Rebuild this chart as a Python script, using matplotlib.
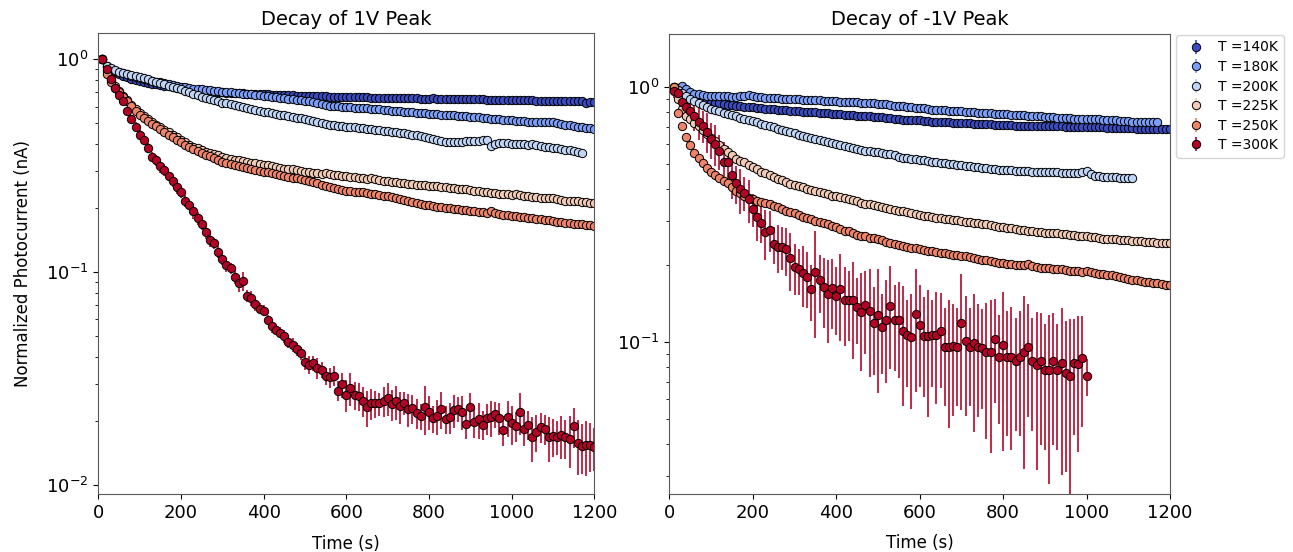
import numpy as np
import matplotlib
matplotlib.use("Agg")
import matplotlib.pyplot as plt

# ---------------- data ----------------
temps = ["140K", "180K", "200K", "225K", "250K", "300K"]
sample_step = 10  # seconds between samples (first sample at 10 s)

# ---- Decay of 1V peak (normalized photocurrent) ----
L140 = """
1.000 0.925 0.895 0.872 0.853 0.838 0.825 0.812 0.800 0.790
0.782 0.775 0.768 0.762 0.757 0.752 0.747 0.742 0.737 0.733
0.729 0.724 0.721 0.717 0.714 0.711 0.708 0.705 0.702 0.700
0.698 0.697 0.696 0.694 0.692 0.690 0.689 0.688 0.686 0.685
0.684 0.682 0.681 0.680 0.679 0.677 0.677 0.676 0.675 0.674
0.674 0.673 0.672 0.671 0.670 0.668 0.668 0.667 0.666 0.664
0.663 0.663 0.662 0.662 0.666 0.661 0.660 0.660 0.659 0.658
0.658 0.657 0.657 0.656 0.656 0.655 0.655 0.654 0.654 0.653
0.656 0.653 0.652 0.652 0.651 0.651 0.650 0.650 0.650 0.649
0.649 0.648 0.648 0.644 0.647 0.646 0.646 0.645 0.645 0.644
0.643 0.642 0.642 0.641 0.641 0.640 0.640 0.639 0.639 0.638
0.638 0.637 0.637 0.636 0.636 0.635 0.635 0.622 0.630 0.633
"""
L180 = """
1.000 0.935 0.905 0.885 0.872 0.861 0.850 0.838 0.826 0.815
0.806 0.800 0.793 0.787 0.780 0.773 0.765 0.758 0.751 0.745
0.738 0.732 0.729 0.726 0.722 0.719 0.716 0.712 0.709 0.706
0.703 0.700 0.697 0.694 0.690 0.688 0.684 0.681 0.678 0.674
0.670 0.667 0.663 0.659 0.655 0.651 0.648 0.645 0.642 0.638
0.634 0.630 0.626 0.620 0.612 0.606 0.604 0.601 0.599 0.597
0.595 0.594 0.592 0.590 0.588 0.587 0.585 0.583 0.580 0.578
0.575 0.573 0.571 0.568 0.566 0.563 0.561 0.559 0.557 0.554
0.552 0.551 0.549 0.548 0.547 0.545 0.544 0.543 0.540 0.538
0.536 0.534 0.532 0.530 0.527 0.525 0.523 0.521 0.519 0.517
0.516 0.514 0.512 0.510 0.509 0.508 0.507 0.506 0.507 0.510
0.501 0.495 0.492 0.489 0.486 0.483 0.480 0.477 0.474 0.471
"""
L200 = """
1.000 0.935 0.912 0.893 0.876 0.865 0.855 0.845 0.835 0.825
0.815 0.805 0.794 0.784 0.773 0.763 0.753 0.743 0.733 0.724
0.713 0.701 0.690 0.679 0.668 0.660 0.651 0.643 0.635 0.627
0.621 0.614 0.608 0.602 0.596 0.590 0.585 0.579 0.573 0.568
0.563 0.559 0.555 0.550 0.546 0.541 0.537 0.533 0.528 0.524
0.520 0.515 0.510 0.503 0.497 0.492 0.490 0.488 0.486 0.483
0.481 0.479 0.477 0.475 0.472 0.470 0.467 0.465 0.462 0.460
0.457 0.455 0.452 0.449 0.446 0.443 0.439 0.436 0.432 0.427
0.422 0.416 0.412 0.411 0.411 0.410 0.411 0.411 0.412 0.413
0.414 0.415 0.416 0.418 0.392 0.402 0.405 0.404 0.403 0.402
0.401 0.400 0.399 0.397 0.400 0.394 0.391 0.388 0.386 0.384
0.382 0.379 0.377 0.374 0.371 0.368 0.365
"""
L225 = """
1.000 0.880 0.800 0.748 0.708 0.674 0.641 0.611 0.583 0.558
0.540 0.523 0.507 0.492 0.479 0.466 0.454 0.442 0.430 0.419
0.408 0.397 0.389 0.382 0.375 0.369 0.364 0.359 0.354 0.349
0.345 0.341 0.338 0.335 0.332 0.330 0.327 0.325 0.322 0.319
0.318 0.315 0.312 0.309 0.306 0.304 0.306 0.301 0.299 0.297
0.295 0.293 0.292 0.290 0.292 0.289 0.287 0.285 0.284 0.282
0.281 0.279 0.278 0.277 0.275 0.276 0.273 0.270 0.268 0.267
0.266 0.264 0.263 0.262 0.261 0.259 0.258 0.256 0.256 0.255
0.254 0.253 0.252 0.251 0.250 0.249 0.247 0.246 0.245 0.244
0.242 0.240 0.239 0.238 0.236 0.235 0.234 0.233 0.232 0.231
0.234 0.230 0.228 0.227 0.226 0.225 0.224 0.223 0.222 0.223
0.220 0.218 0.217 0.216 0.217 0.215 0.213 0.213 0.212 0.211
"""
L250 = """
1.000 0.850 0.780 0.735 0.700 0.669 0.636 0.605 0.575 0.549
0.532 0.516 0.499 0.484 0.470 0.456 0.443 0.431 0.419 0.408
0.397 0.387 0.379 0.371 0.363 0.356 0.350 0.343 0.337 0.331
0.327 0.323 0.319 0.316 0.312 0.309 0.306 0.303 0.300 0.297
0.295 0.292 0.289 0.286 0.283 0.281 0.278 0.276 0.273 0.271
0.268 0.266 0.262 0.258 0.254 0.251 0.249 0.246 0.244 0.242
0.240 0.239 0.238 0.237 0.235 0.234 0.233 0.231 0.229 0.227
0.225 0.223 0.220 0.218 0.215 0.213 0.211 0.209 0.207 0.206
0.205 0.203 0.202 0.201 0.200 0.199 0.198 0.196 0.195 0.194
0.193 0.192 0.191 0.190 0.193 0.189 0.187 0.186 0.185 0.184
0.183 0.182 0.181 0.180 0.179 0.178 0.177 0.176 0.175 0.174
0.173 0.172 0.171 0.170 0.169 0.168 0.168 0.167 0.166 0.165
"""
L300 = """
1.000 0.900 0.807 0.732 0.681 0.634 0.573 0.524 0.483 0.441
0.419 0.383 0.349 0.337 0.316 0.303 0.282 0.267 0.252 0.238
0.216 0.207 0.193 0.179 0.168 0.155 0.142 0.137 0.125 0.1155
0.108 0.1044 0.0953 0.0887 0.091 0.0774 0.0755 0.071 0.0673 0.066
0.0597 0.056 0.0536 0.052 0.0499 0.0472 0.0455 0.0436 0.0416 0.0378
0.0367 0.0374 0.0354 0.0347 0.0326 0.0321 0.0327 0.0278 0.0297 0.0265
0.0285 0.0265 0.0262 0.0248 0.0232 0.0242 0.0242 0.0242 0.0248 0.0256
0.0240 0.0247 0.0234 0.0243 0.0227 0.0229 0.0218 0.0211 0.0232 0.0221
0.0206 0.0211 0.0228 0.0204 0.0208 0.0226 0.0228 0.0221 0.0194 0.0232
0.0197 0.0204 0.0192 0.0206 0.0209 0.0216 0.0207 0.0182 0.0209 0.0195
0.0190 0.0221 0.0183 0.0192 0.0168 0.0178 0.0187 0.0184 0.0168 0.0170
0.0169 0.0172 0.0168 0.0165 0.0189 0.0157 0.0153 0.0155 0.0155 0.0151
"""
L300_err = """
0.030 0.025 0.020 0.020 0.020 0.020 0.020 0.025 0.025 0.025
0.020 0.020 0.020 0.020 0.025 0.020 0.015 0.015 0.018 0.014
0.014 0.012 0.016 0.012 0.010 0.012 0.010 0.008 0.008 0.007
0.008 0.006 0.007 0.008 0.009 0.005 0.006 0.005 0.004 0.004
0.0035 0.004 0.003 0.003 0.0035 0.003 0.0035 0.003 0.003 0.003
0.0035 0.003 0.004 0.003 0.003 0.0035 0.0035 0.003 0.004 0.0045
0.005 0.004 0.004 0.004 0.0045 0.004 0.0035 0.003 0.004 0.0045
0.004 0.0045 0.004 0.003 0.004 0.0035 0.0035 0.003 0.006 0.004
0.003 0.004 0.0045 0.003 0.0035 0.004 0.003 0.004 0.003 0.004
0.003 0.004 0.003 0.0035 0.004 0.003 0.0035 0.003 0.004 0.004
0.003 0.005 0.003 0.003 0.004 0.0035 0.003 0.003 0.004 0.0035
0.003 0.004 0.0035 0.0045 0.004 0.0045 0.004 0.0045 0.004 0.0035
"""

# ---- Decay of -1V peak ----
R140 = """
1.000 0.975 0.955 0.940 0.925 0.913 0.904 0.895 0.886 0.878
0.871 0.865 0.859 0.853 0.849 0.846 0.842 0.839 0.836 0.833
0.830 0.827 0.825 0.822 0.820 0.817 0.815 0.812 0.810 0.807
0.805 0.803 0.801 0.799 0.797 0.795 0.793 0.791 0.789 0.786
0.784 0.781 0.779 0.776 0.774 0.772 0.770 0.768 0.766 0.764
0.762 0.760 0.757 0.753 0.749 0.747 0.745 0.744 0.743 0.741
0.739 0.736 0.734 0.732 0.731 0.729 0.728 0.726 0.725 0.724
0.722 0.721 0.720 0.719 0.717 0.716 0.715 0.714 0.712 0.711
0.710 0.709 0.708 0.707 0.707 0.706 0.705 0.705 0.704 0.704
0.703 0.703 0.702 0.702 0.701 0.701 0.700 0.700 0.699 0.699
0.698 0.698 0.697 0.696 0.695 0.694 0.693 0.692 0.691 0.690
0.690 0.689 0.688 0.688 0.687 0.686 0.686 0.685 0.684 0.684
"""
R180 = """
0.990 0.995 1.010 0.985 0.960 0.945 0.938 0.932 0.927 0.925
0.923 0.921 0.920 0.920 0.919 0.918 0.920 0.925 0.933 0.922
0.916 0.913 0.911 0.909 0.907 0.905 0.903 0.901 0.899 0.897
0.896 0.894 0.893 0.891 0.890 0.888 0.886 0.884 0.882 0.881
0.879 0.878 0.876 0.874 0.872 0.870 0.868 0.866 0.864 0.862
0.859 0.856 0.852 0.848 0.844 0.841 0.838 0.835 0.832 0.829
0.826 0.822 0.818 0.815 0.813 0.811 0.810 0.808 0.806 0.804
0.802 0.800 0.798 0.796 0.794 0.792 0.790 0.788 0.786 0.785
0.783 0.781 0.779 0.777 0.776 0.774 0.772 0.770 0.768 0.766
0.764 0.762 0.760 0.758 0.756 0.755 0.754 0.753 0.752 0.751
0.750 0.749 0.749 0.747 0.745 0.743 0.741 0.739 0.737 0.735
0.733 0.733 0.734 0.734 0.733 0.733 0.733
"""
R200 = """
1.000 0.975 0.950 0.925 0.903 0.886 0.868 0.852 0.838 0.825
0.814 0.804 0.794 0.785 0.777 0.769 0.761 0.754 0.745 0.737
0.729 0.720 0.712 0.704 0.696 0.688 0.680 0.673 0.666 0.659
0.652 0.646 0.640 0.634 0.628 0.623 0.617 0.611 0.605 0.599
0.593 0.587 0.581 0.576 0.571 0.567 0.564 0.561 0.558 0.555
0.552 0.549 0.545 0.541 0.533 0.530 0.527 0.524 0.521 0.519
0.517 0.514 0.511 0.509 0.506 0.504 0.501 0.499 0.496 0.494
0.491 0.489 0.487 0.485 0.483 0.481 0.479 0.477 0.475 0.474
0.473 0.472 0.471 0.470 0.469 0.468 0.467 0.467 0.466 0.466
0.465 0.465 0.464 0.463 0.462 0.461 0.460 0.462 0.466 0.468
0.455 0.450 0.447 0.446 0.445 0.444 0.443 0.442 0.441 0.440
0.440
"""
R225 = """
1.000 0.900 0.825 0.772 0.748 0.726 0.703 0.680 0.657 0.635
0.614 0.594 0.575 0.556 0.540 0.525 0.515 0.507 0.497 0.487
0.476 0.466 0.459 0.452 0.445 0.438 0.431 0.425 0.419 0.413
0.409 0.405 0.400 0.396 0.392 0.388 0.384 0.380 0.376 0.373
0.370 0.367 0.364 0.360 0.357 0.353 0.350 0.347 0.345 0.342
0.339 0.336 0.333 0.330 0.328 0.326 0.323 0.321 0.319 0.316
0.314 0.312 0.310 0.308 0.307 0.305 0.304 0.302 0.301 0.299
0.297 0.296 0.294 0.293 0.291 0.290 0.288 0.286 0.284 0.283
0.281 0.280 0.278 0.276 0.275 0.273 0.272 0.271 0.270 0.269
0.268 0.268 0.267 0.266 0.266 0.264 0.263 0.262 0.261 0.260
0.259 0.258 0.256 0.255 0.255 0.254 0.253 0.252 0.251 0.251
0.250 0.249 0.249 0.248 0.248 0.247 0.246 0.246 0.245 0.244
"""
R250 = """
1.000 0.790 0.705 0.640 0.593 0.551 0.526 0.503 0.481 0.467
0.453 0.440 0.427 0.420 0.408 0.393 0.384 0.375 0.367 0.364
0.359 0.354 0.351 0.348 0.343 0.340 0.333 0.328 0.325 0.320
0.316 0.311 0.306 0.304 0.300 0.297 0.293 0.291 0.286 0.282
0.278 0.274 0.272 0.268 0.264 0.261 0.260 0.257 0.256 0.253
0.252 0.248 0.246 0.243 0.241 0.239 0.237 0.235 0.234 0.232
0.230 0.228 0.227 0.226 0.224 0.223 0.221 0.220 0.219 0.218
0.217 0.215 0.214 0.212 0.211 0.210 0.208 0.207 0.205 0.204
0.203 0.202 0.201 0.200 0.201 0.203 0.199 0.197 0.196 0.195
0.195 0.194 0.193 0.193 0.192 0.191 0.191 0.190 0.189 0.190
0.188 0.187 0.186 0.185 0.184 0.183 0.182 0.180 0.179 0.177
0.176 0.175 0.174 0.173 0.172 0.171 0.170 0.169 0.168 0.167
"""
R300 = """
0.970 0.947 0.878 0.839 0.810 0.772 0.733 0.705 0.670 0.625
0.600 0.562 0.511 0.511 0.453 0.420 0.398 0.386 0.364 0.332
0.309 0.2945 0.271 0.276 0.242 0.237 0.237 0.2315 0.2135 0.198
0.193 0.1875 0.181 0.1614 0.189 0.1755 0.164 0.1547 0.163 0.152
0.1614 0.1465 0.146 0.146 0.138 0.1318 0.140 0.133 0.1194 0.128
0.115 0.1223 0.1388 0.1223 0.1223 0.111 0.107 0.1047 0.129 0.117
0.1059 0.1059 0.107 0.107 0.111 0.0961 0.0961 0.0965 0.0961 0.1194
0.1015 0.0961 0.0996 0.0961 0.0947 0.0919 0.0919 0.1027 0.0878 0.0976
0.0878 0.0878 0.0847 0.0878 0.0919 0.0961 0.0847 0.0815 0.0847 0.0778
0.0778 0.0847 0.0778 0.0832 0.0760 0.0738 0.0832 0.0822 0.0866 0.0738
"""
R300_err = """
0.060 0.070 0.080 0.070 0.090 0.100 0.110 0.100 0.120 0.100
0.110 0.090 0.100 0.080 0.090 0.070 0.080 0.060 0.070 0.050
0.060 0.050 0.060 0.050 0.040 0.050 0.045 0.050 0.055 0.045
0.040 0.050 0.045 0.040 0.085 0.045 0.050 0.055 0.050 0.045
0.060 0.050 0.045 0.060 0.040 0.055 0.050 0.060 0.045 0.065
0.040 0.053 0.060 0.045 0.050 0.055 0.040 0.050 0.065 0.050
0.045 0.055 0.040 0.050 0.045 0.040 0.050 0.045 0.040 0.065
0.050 0.040 0.055 0.045 0.040 0.050 0.055 0.045 0.040 0.060
0.045 0.050 0.040 0.045 0.060 0.045 0.040 0.050 0.045 0.040
0.050 0.045 0.040 0.053 0.045 0.050 0.040 0.045 0.040 0.012
"""

# typical (small) error of the smooth series
err_1V = [0.004, 0.004, 0.003, 0.003, 0.003]
err_m1V = [0.005, 0.012, 0.004, 0.004, 0.004]


def parse(s):
    return np.array([float(v) for v in s.split()])


left_vals = [parse(s) for s in (L140, L180, L200, L225, L250, L300)]
left_errs = err_1V + [parse(L300_err)]
right_vals = [parse(s) for s in (R140, R180, R200, R225, R250, R300)]
right_errs = err_m1V + [parse(R300_err)]

# ---------------- figure ----------------
W, H = 1293, 552
fig = plt.figure(figsize=(W / 100, H / 100), dpi=100)
axL = fig.add_axes([98.3 / W, 1 - 494.3 / H, (594.3 - 98.3) / W, (494.3 - 33) / H])
axR = fig.add_axes([669.4 / W, 1 - 494.0 / H, (1170 - 669.4) / W, (494.0 - 33.5) / H])

colors = plt.cm.coolwarm(np.linspace(0, 1, len(temps)))

for ax, vals, errs in ((axL, left_vals, left_errs), (axR, right_vals, right_errs)):
    for i, T in enumerate(temps):
        y = vals[i]
        t = sample_step * np.arange(1, len(y) + 1)
        ec = tuple(colors[i][:3]) + (0.85,)
        ax.errorbar(t, y, yerr=errs[i], fmt='o', ms=6, mfc=colors[i], mec='k',
                    mew=0.7, ecolor=ec, elinewidth=1.4, capsize=0,
                    label=f"T ={T}")
    ax.set_yscale('log')
    ax.set_xlim(0, 1200)
    ax.set_xticks(range(0, 1201, 200))
    ax.tick_params(axis='both', which='major', labelsize=13)
    ax.set_xlabel("Time (s)", fontsize=12, labelpad=9)
    for sp in ax.spines.values():
        sp.set_color('0.35')

axL.set_ylim(0.00905, 1.33)
axR.set_ylim(0.0254, 1.625)
axL.set_title("Decay of 1V Peak", fontsize=14)
axR.set_title("Decay of -1V Peak", fontsize=14)
axL.set_ylabel("Normalized Photocurrent (nA)", fontsize=12, labelpad=10)

axR.legend(loc='upper left', bbox_to_anchor=(1.01, 1.0), borderaxespad=0.1,
           fontsize=10, labelspacing=0.4, handletextpad=0.6)

fig.savefig("out.png", dpi=100)
